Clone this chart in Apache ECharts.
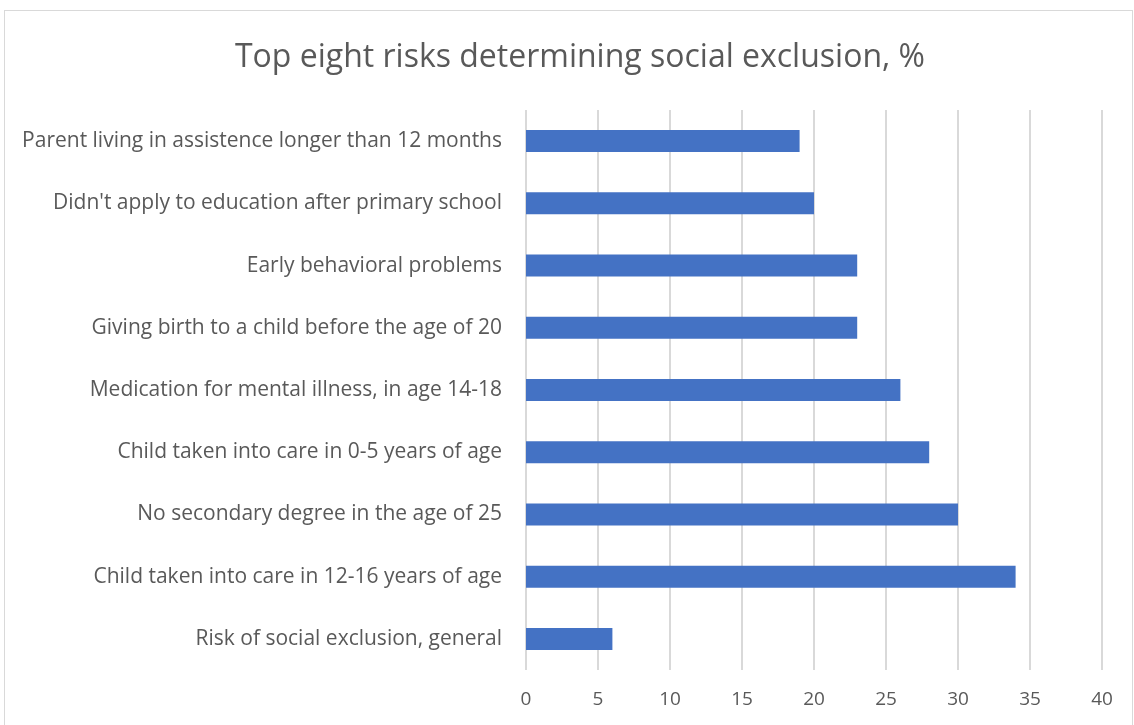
<html>
<head>
    <meta charset='utf-8' />
    <script src="https://cdn.jsdelivr.net/npm/echarts@6/dist/echarts.min.js"></script>
    <title>Top eight risks</title>
    <style>
        body { margin: 0; overflow: hidden; background: #fff; }
        #frame {
            position: absolute; left: 4px; top: 10px; width: 1127px; height: 730px;
            border: 1px solid #d9d9d9;
        }
        #chart { position: absolute; left: 0; top: 0; width: 1134px; height: 725px; }
    </style>
</head>
<body>
    <div id="frame"></div>
    <div id="chart"></div>
    <script type="text/javascript">
        // bottom to top, as drawn
        var categories = [
            'Risk of social exclusion, general',
            'Child taken into care in 12-16 years of age',
            'No secondary degree in the age of 25',
            'Child taken into care in 0-5 years of age',
            'Medication for mental illness, in age 14-18',
            'Giving birth to a child before the age of 20',
            'Early behavioral problems',
            "Didn't apply to education after primary school",
            'Parent living in assistence longer than 12 months'
        ];
        var values = [6, 34, 30, 28, 26, 23, 23, 20, 19];

        var chart = echarts.init(document.getElementById('chart'));
        var option = {
            animation: false,
            textStyle: { fontFamily: 'Open Sans' },
            title: {
                text: 'Top eight risks determining social exclusion, %',
                left: 575,
                textAlign: 'center',
                top: 37,
                textStyle: { fontSize: 32, fontWeight: 'normal', color: '#595959', fontFamily: 'Open Sans' }
            },
            grid: { left: 526, right: 32, top: 110, bottom: 55, containLabel: false },
            xAxis: {
                type: 'value',
                min: 0, max: 40, interval: 5,
                axisLine: { show: false },
                axisTick: { show: false },
                axisLabel: { color: '#595959', fontSize: 19, margin: 20 },
                splitLine: { lineStyle: { color: '#d9d9d9', width: 2 } }
            },
            yAxis: {
                type: 'category',
                data: categories,
                axisLine: { show: false },
                axisTick: { show: false },
                axisLabel: { color: '#595959', fontSize: 21, margin: 24 }
            },
            series: [{
                type: 'bar',
                data: values,
                barWidth: 22,
                itemStyle: { color: '#4472c4' }
            }]
        };
        chart.setOption(option);
    </script>
</body>
</html>
